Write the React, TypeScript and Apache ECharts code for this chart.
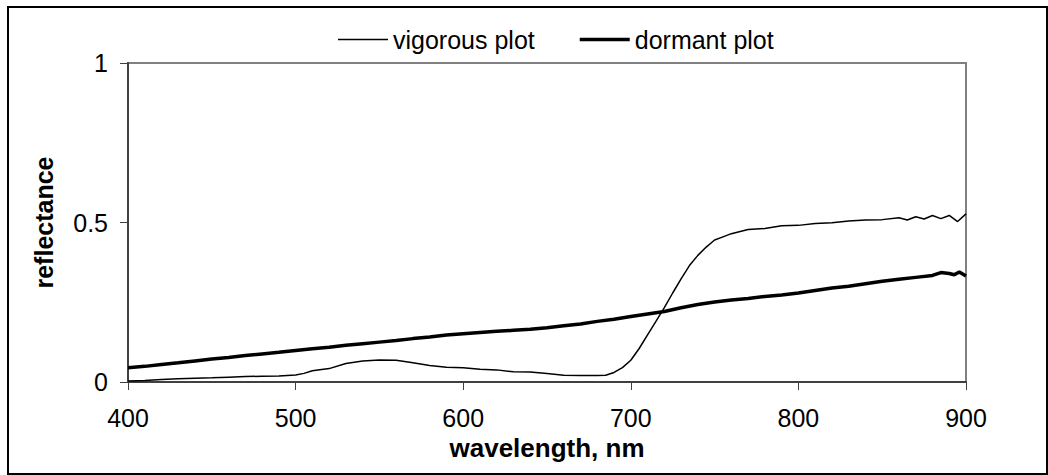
import React, { useEffect, useRef } from "react";
import * as echarts from "echarts";

const seriesNames = ["vigorous plot", "dormant plot"];

const vigorousNm = [
  400, 410, 420, 430, 440, 450, 460, 470, 480, 490, 500, 505, 510, 520, 530, 540, 550, 560, 570, 580,
  590, 600, 610, 620, 630, 640, 650, 660, 670, 680, 685, 690, 695, 700, 705, 710, 715, 720, 725, 730,
  735, 740, 745, 750, 755, 760, 770, 780, 790, 800, 810, 820, 830, 840, 850, 860, 865, 870, 875, 880,
  885, 890, 895, 900,
];
const vigorousValues = [
  0.003, 0.005, 0.008, 0.01, 0.012, 0.013, 0.015, 0.017, 0.018, 0.019, 0.022, 0.027, 0.035, 0.042, 0.058, 0.066, 0.069, 0.068, 0.06, 0.052,
  0.046, 0.045, 0.04, 0.038, 0.032, 0.031, 0.027, 0.021, 0.02, 0.02, 0.021, 0.03, 0.045, 0.068, 0.105, 0.148, 0.19, 0.233, 0.279, 0.323,
  0.365, 0.397, 0.423, 0.445, 0.455, 0.465, 0.478, 0.481, 0.49, 0.491, 0.497, 0.499, 0.505, 0.508, 0.509, 0.515, 0.508, 0.518, 0.511, 0.522,
  0.512, 0.522, 0.503, 0.527,
];

const dormantNm = [
  400, 410, 420, 430, 440, 450, 460, 470, 480, 490, 500, 510, 520, 530, 540, 550, 560, 570, 580, 590,
  600, 610, 620, 630, 640, 650, 660, 670, 680, 690, 700, 710, 720, 730, 740, 750, 760, 770, 780, 790,
  800, 810, 820, 830, 840, 850, 860, 870, 880, 885, 890, 893, 896, 900,
];
const dormantValues = [
  0.045, 0.049, 0.055, 0.06, 0.066, 0.072, 0.077, 0.083, 0.088, 0.093, 0.099, 0.104, 0.109, 0.115, 0.12, 0.125, 0.13, 0.136, 0.141, 0.147,
  0.151, 0.155, 0.159, 0.162, 0.165, 0.17, 0.176, 0.182, 0.19, 0.197, 0.205, 0.213, 0.221, 0.233, 0.243, 0.251, 0.257, 0.262, 0.268, 0.273,
  0.279, 0.287, 0.295, 0.3, 0.308, 0.316, 0.322, 0.328, 0.334, 0.343, 0.34, 0.336, 0.345, 0.332,
];

const xTicks = { min: 400, max: 900, interval: 100 };
const yTicks = { min: 0, max: 1, interval: 0.5 };

const xTitle = "wavelength, nm";
const yTitle = "reflectance";

const FONT = "Liberation Sans, Arial, sans-serif";

export default function App() {
  const ref = useRef<HTMLDivElement>(null);

  useEffect(() => {
    if (!ref.current) return;
    const chart = echarts.init(ref.current, null, { renderer: "svg" });
    const vig = vigorousNm.map((x, i) => [x, vigorousValues[i]]);
    const dor = dormantNm.map((x, i) => [x, dormantValues[i]]);
    chart.setOption({
      animation: false,
      backgroundColor: "#ffffff",
      textStyle: { fontFamily: FONT },
      graphic: [
        {
          type: "rect",
          shape: { x: 8, y: 7, width: 1039, height: 467 },
          style: { fill: "none", stroke: "#000000", lineWidth: 2 },
          silent: true,
        },
      ],
      legend: {
        left: 333,
        top: 22,
        itemWidth: 50,
        itemHeight: 14,
        itemGap: 45,
        data: [
          { name: seriesNames[0], icon: "path://M0,0H50V1.5H0Z" },
          { name: seriesNames[1], icon: "path://M0,0H50V3.5H0Z" },
        ],
        itemStyle: { color: "#000000", borderWidth: 0 },
        textStyle: { fontFamily: FONT, fontSize: 25, color: "#000" },
      },
      grid: {
        left: 128,
        top: 63,
        width: 838,
        height: 319,
        show: true,
        borderColor: "#808080",
        borderWidth: 2,
        backgroundColor: "#ffffff",
      },
      xAxis: {
        type: "value",
        min: xTicks.min,
        max: xTicks.max,
        interval: xTicks.interval,
        name: xTitle,
        nameLocation: "middle",
        nameGap: 47,
        nameTextStyle: { fontFamily: FONT, fontSize: 26, fontWeight: "bold", color: "#000" },
        axisLine: { show: true, onZero: false, lineStyle: { color: "#404040", width: 2 } },
        axisTick: { show: true, inside: false, length: 8, lineStyle: { color: "#404040", width: 1 } },
        axisLabel: { fontFamily: FONT, fontSize: 25, color: "#000", margin: 23 },
        splitLine: { show: false },
      },
      yAxis: {
        type: "value",
        min: yTicks.min,
        max: yTicks.max,
        interval: yTicks.interval,
        name: yTitle,
        nameLocation: "middle",
        nameGap: 72,
        nameTextStyle: { fontFamily: FONT, fontSize: 25, fontWeight: "bold", color: "#000" },
        axisLine: { show: true, lineStyle: { color: "#404040", width: 2 } },
        axisTick: { show: true, inside: false, length: 8, lineStyle: { color: "#404040", width: 1 } },
        axisLabel: {
          fontFamily: FONT,
          fontSize: 25,
          color: "#000",
          margin: 20,
          formatter: (v: number) => String(v),
        },
        splitLine: { show: false },
      },
      series: [
        {
          name: seriesNames[0],
          type: "line",
          data: vig,
          symbol: "none",
          lineStyle: { color: "#000000", width: 1.5 },
          itemStyle: { color: "#000000" },
        },
        {
          name: seriesNames[1],
          type: "line",
          data: dor,
          symbol: "none",
          lineStyle: { color: "#000000", width: 3.5 },
          itemStyle: { color: "#000000" },
        },
      ],
    });
    return () => chart.dispose();
  }, []);

  return (
    <div
      ref={ref}
      style={{ position: "absolute", left: 0, top: 0, width: 1048, height: 475 }}
    />
  );
}
